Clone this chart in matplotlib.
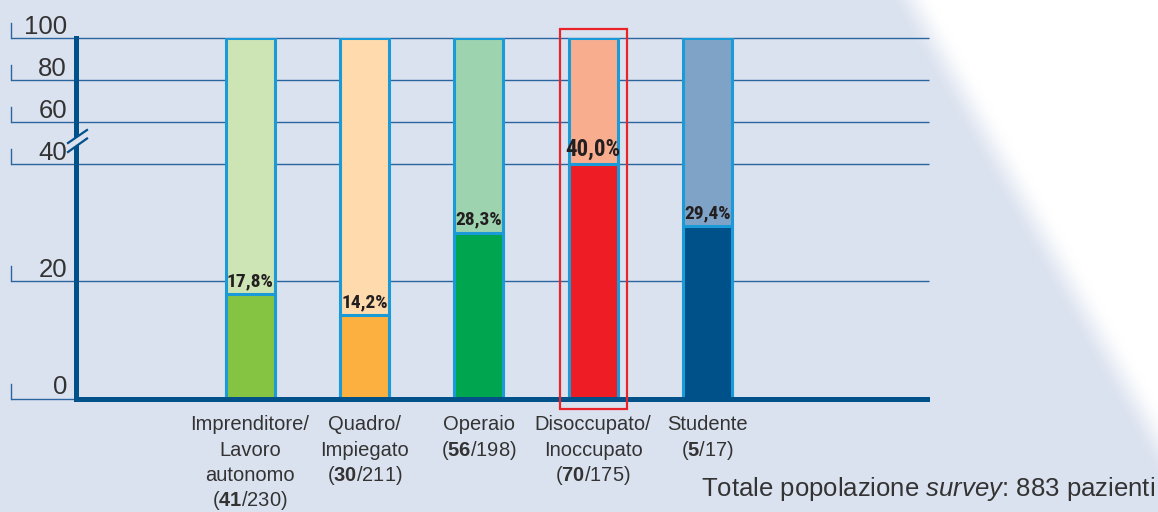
import numpy as np
import matplotlib
matplotlib.use("Agg")
import matplotlib.pyplot as plt
from matplotlib import font_manager as fm
from matplotlib.patches import Rectangle, Polygon
from matplotlib.lines import Line2D
from matplotlib.transforms import offset_copy

# ---------------- data ----------------
category_lines = [["Imprenditore/", "Lavoro", "autonomo"],
                  ["Quadro/", "Impiegato"],
                  ["Operaio"],
                  ["Disoccupato/", "Inoccupato"],
                  ["Studente"]]
numerators = [41, 30, 56, 70, 5]
denominators = [230, 211, 198, 175, 17]
percent_values = [17.8, 14.2, 28.3, 40.0, 29.4]
percent_labels = ["17,8%", "14,2%", "28,3%", "40,0%", "29,4%"]
y_ticks = [0, 20, 40, 60, 80, 100]
light_colors = ["#CDE4B5", "#FEDAAC", "#9DD3AF", "#F9AD8F", "#7FA3C7"]
dark_colors = ["#85C442", "#FBB040", "#00A550", "#EE1D25", "#00508A"]
highlight_index = 3
total_note = r"Totale popolazione $\mathit{survey}$: 883 pazienti"

# ---------------- style ----------------
W, H = 1158, 512
BG = "#DBE2EF"
AXIS = "#00508A"
GRID = "#2A65A0"
EDGE = "#1B9AD8"
TXT = "#333333"

plt.rcParams["font.family"] = ["Liberation Sans", "DejaVu Sans"]
plt.rcParams["mathtext.fontset"] = "custom"
plt.rcParams["mathtext.rm"] = "Liberation Sans"
plt.rcParams["mathtext.it"] = "Liberation Sans:italic"
plt.rcParams["mathtext.bf"] = "Liberation Sans:bold"

COND = ["Roboto Condensed", "Archivo Narrow", "Barlow Condensed", "DejaVu Sans"]
pct_prop = fm.FontProperties(family=COND, weight="bold", size=14)
pct_big = fm.FontProperties(family=COND, weight="bold", size=16.5)

fig = plt.figure(figsize=(W / 100, H / 100), dpi=100)
fig.patch.set_facecolor(BG)

# background with white diagonal region (upper right)
bg_ax = fig.add_axes([0, 0, 1, 1], zorder=-10)
yy, xx = np.mgrid[0:H, 0:W]
x_edge = 911 + (1160 - 911) * yy / 445.0
t = np.clip((xx - x_edge + 22) / 44.0, 0, 1)
t = t * t * (3 - 2 * t)
bgc = np.array(matplotlib.colors.to_rgb(BG))
img = bgc[None, None, :] * (1 - t[..., None]) + np.ones(3)[None, None, :] * t[..., None]
bg_ax.imshow(img, extent=[0, W, H, 0], aspect="auto", interpolation="bilinear")
bg_ax.set_xlim(0, W)
bg_ax.set_ylim(H, 0)
bg_ax.axis("off")

# ---------------- main axes (broken scale) ----------------
BRK = 40.0
K = 126.0 / 234.7 * (40.0 / 60.0)


def fwd(v):
    v = np.asarray(v, dtype=float)
    return np.where(v <= BRK, v, BRK + (v - BRK) * K)


def inv(u):
    u = np.asarray(u, dtype=float)
    return np.where(u <= BRK, u, BRK + (u - BRK) / K)


ax_left, ax_right, ax_top, ax_bot = 76, 929, 38.3, 398.5
ax = fig.add_axes([ax_left / W, 1 - ax_bot / H, (ax_right - ax_left) / W, (ax_bot - ax_top) / H])
ax.set_facecolor("none")
ax.set_yscale("function", functions=(fwd, inv))
ax.set_ylim(0, 100)
spacing = 114.4
ax.set_xlim((ax_left - 250) / spacing, (ax_right - 250) / spacing)
ax.set_xticks([])
ax.set_yticks([])
ax.yaxis.set_minor_locator(matplotlib.ticker.NullLocator())
for s in ("top", "right"):
    ax.spines[s].set_visible(False)
for s in ("left", "bottom"):
    ax.spines[s].set_color(AXIS)
    ax.spines[s].set_linewidth(3.6)
    ax.spines[s].set_zorder(5)
ax.spines["bottom"].set_bounds(ax.get_xlim()[0], (926.7 - 250) / spacing)

# gridlines, brackets and tick labels
blend = ax.get_yaxis_transform()  # x: axes, y: data
xa0 = (10.5 - ax_left) / (ax_right - ax_left)
px_per_u = (ax_bot - ax_top) / float(fwd(100))
for tv in y_ticks:
    ax.plot([xa0, 1], [tv, tv], transform=blend, color=GRID, lw=1.0,
            clip_on=False, zorder=1, solid_capstyle="butt")
    top_v = float(inv(fwd(tv) + 15 / px_per_u))
    ax.plot([xa0, xa0], [tv, top_v], transform=blend, color=GRID, lw=1.0,
            clip_on=False, zorder=1)
    ax.text((67 - ax_left) / (ax_right - ax_left), tv, str(tv),
            transform=offset_copy(blend, fig=fig, y=4, units="dots"),
            ha="right", va="baseline", fontsize=18.5, color=TXT)

# bars
x = np.arange(len(percent_values))
bw = (52 - 3) / spacing
ax.bar(x, [100] * len(x), width=bw, color=light_colors, edgecolor=EDGE,
       linewidth=2.2, zorder=3)
ax.bar(x, percent_values, width=bw, color=dark_colors, edgecolor=EDGE,
       linewidth=2.2, zorder=4)

# percentage labels
for i, (v, lab) in enumerate(zip(percent_values, percent_labels)):
    prop = pct_big if i == highlight_index else pct_prop
    ax.text(i, v, lab, transform=offset_copy(ax.transData, fig=fig, y=8, units="dots"),
            ha="center", va="baseline", fontproperties=prop, color="#231F20", zorder=6)

# highlight rectangle
xb = ax.get_xaxis_transform()  # x: data, y: axes
hw = 67 / spacing
ya0 = (ax_bot - 408.5) / (ax_bot - ax_top)
ya1 = (ax_bot - 28.5) / (ax_bot - ax_top)
ax.add_patch(Rectangle((highlight_index - hw / 2, ya0), hw, ya1 - ya0, transform=xb,
                       fill=False, ec="#E8232A", lw=1.6, clip_on=False, zorder=7))

# category labels
line_base = [430, 455.5, 481, 506.5]
for i, lines in enumerate(category_lines):
    allines = list(lines) + [r"($\mathbf{%d}$/%d)" % (numerators[i], denominators[i])]
    for j, s in enumerate(allines):
        ax.text(i, 0, s, transform=offset_copy(xb, fig=fig, y=-(line_base[j] - ax_bot), units="dots"),
                ha="center", va="baseline", fontsize=14.5, color=TXT, clip_on=False)

# axis break mark
def P(px, py):
    return (px / W, 1 - py / H)

fig.add_artist(Polygon([P(68, 143), P(87, 130), P(87, 138.5), P(68, 152)], closed=True,
                       transform=fig.transFigure, fc=BG, ec="none", zorder=10))
for (x0, y0, x1, y1) in [(68, 143, 87, 130), (68, 152, 87, 138.5)]:
    fig.add_artist(Line2D([x0 / W, x1 / W], [1 - y0 / H, 1 - y1 / H], transform=fig.transFigure,
                          color=AXIS, lw=1.6, zorder=11))

# note
fig.text(1155 / W, 1 - 496 / H, total_note, ha="right", va="baseline", fontsize=18.5, color=TXT)

fig.savefig("out.png", dpi=100, facecolor=BG)
